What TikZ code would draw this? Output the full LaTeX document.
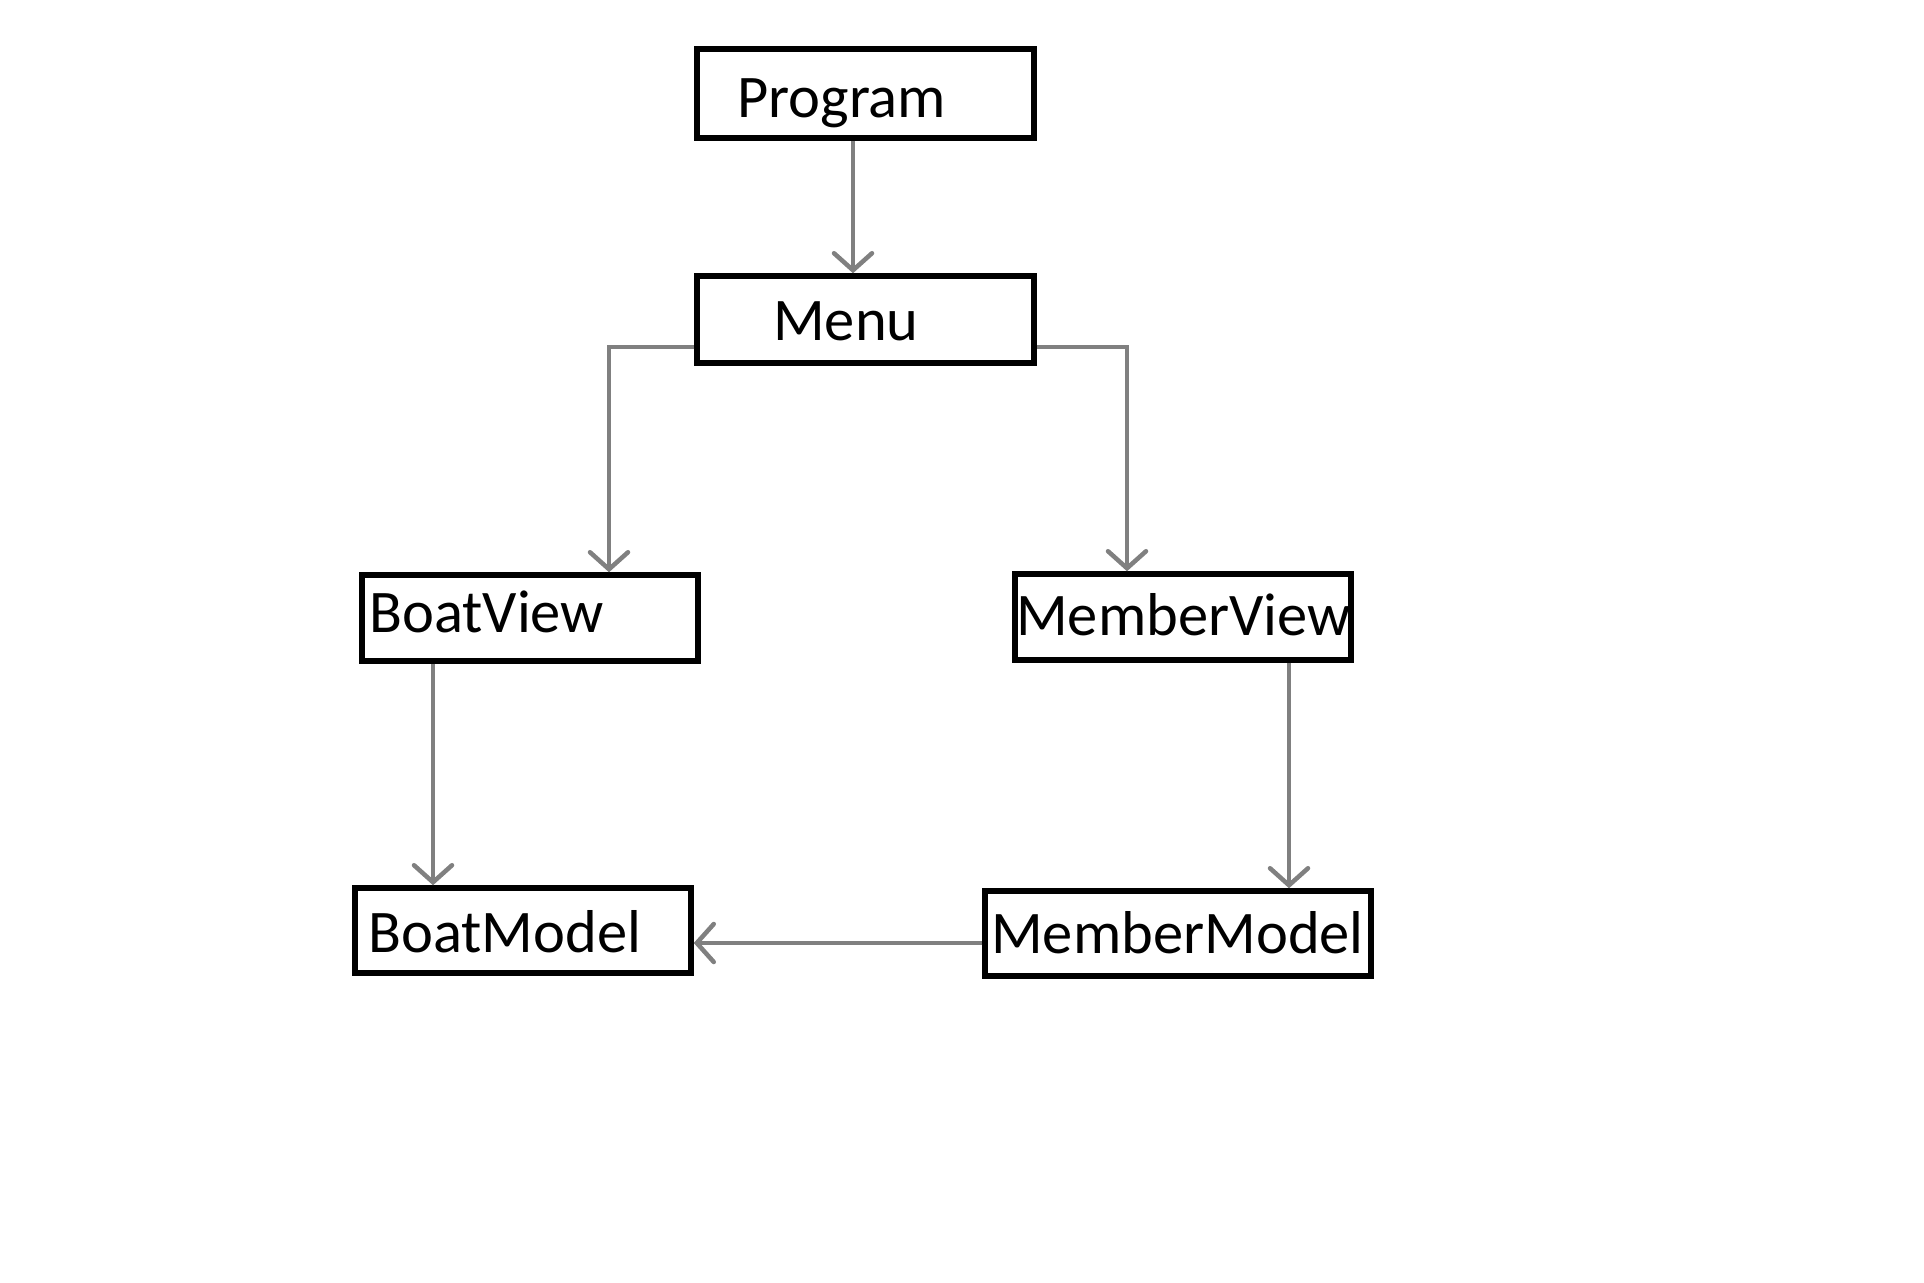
\documentclass[tikz,border=0pt]{standalone}
\usepackage{fontspec}
\setmainfont{Carlito}
\usetikzlibrary{arrows.meta}
\definecolor{conn}{RGB}{128,128,128}
\begin{document}
\begin{tikzpicture}[x=1pt,y=-1pt,
  boxnode/.style={draw=black,line width=5.5pt,rectangle,inner sep=0pt},
  lbl/.style={anchor=base west,inner sep=0pt,font=\fontsize{60.5pt}{72pt}\selectfont},
  conline/.style={draw=conn,line width=4.5pt,-{Straight Barb[length=17pt,width=38pt,line cap=round]}}]
\useasboundingbox (0,0) rectangle (1924,1282);
\fill[white] (0,0) rectangle (1924,1282);
% boxes
\node[boxnode,minimum width=337pt,minimum height=89pt] (Program) at (865.5,93.5) {};
\node[boxnode,minimum width=337pt,minimum height=87pt] (Menu) at (865.5,319.5) {};
\node[boxnode,minimum width=336pt,minimum height=86pt] (BoatView) at (530,618) {};
\node[boxnode,minimum width=336pt,minimum height=86pt] (MemberView) at (1183,617) {};
\node[boxnode,minimum width=336pt,minimum height=85pt] (BoatModel) at (523,930.5) {};
\node[boxnode,minimum width=386pt,minimum height=85pt] (MemberModel) at (1178,933.5) {};
% labels
\node[lbl] (tProgram) at (737,117) {Program};
\node[lbl] (tMenu) at (773,340) {Menu};
\node[lbl] (tBoatView) at (369,632) {BoatView};
\node[lbl] (tMemberView) at (1016,635) {MemberView};
\node[lbl] (tBoatModel) at (368,952) {BoatModel};
\node[lbl] (tMemberModel) at (991,953) {MemberModel};
% connectors
\coordinate (pout) at ([xshift=-12.5pt]Program.south);
\draw[conline] (pout) -- (pout |- Menu.north);
\draw[conline] ([yshift=-27.5pt]Menu.west) -| ([xshift=79pt]BoatView.north);
\draw[conline] ([yshift=-27.5pt]Menu.east) -| ([xshift=-56pt]MemberView.north);
\coordinate (bvout) at ([xshift=-97pt]BoatView.south);
\draw[conline] (bvout) -- (bvout |- BoatModel.north);
\coordinate (mvout) at ([xshift=106pt]MemberView.south);
\draw[conline] (mvout) -- (mvout |- MemberModel.north);
\coordinate (mmout) at ([yshift=-9.5pt]MemberModel.west);
\draw[conline] (mmout) -- (mmout -| BoatModel.east);
\end{tikzpicture}
\end{document}
